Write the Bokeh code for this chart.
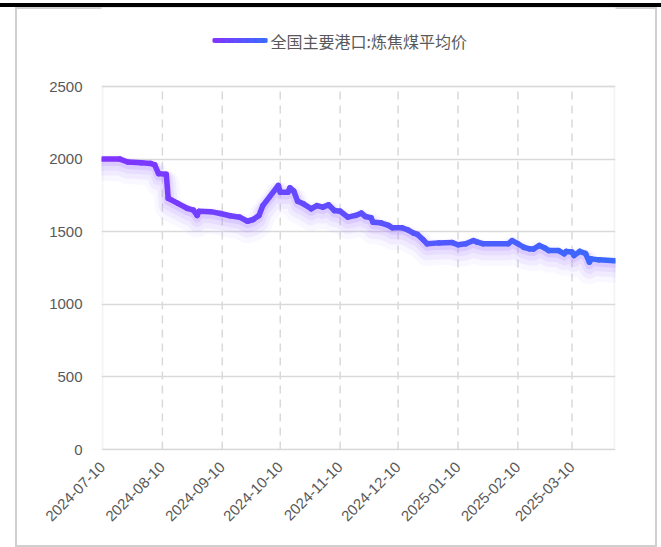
import math
import pandas as pd
from bokeh.plotting import figure
from bokeh.models import (Range1d, FixedTicker, DatetimeTickFormatter, Label,
                          BoxAnnotation, ColumnDataSource)
from bokeh.embed import file_html
from bokeh.resources import INLINE

# 全国主要港口:炼焦煤平均价 (元/吨)
dates = ["2024-07-10", "2024-07-19", "2024-07-23", "2024-07-30", "2024-08-04", "2024-08-06",
         "2024-08-08", "2024-08-12", "2024-08-13", "2024-08-18", "2024-08-23", "2024-08-26",
         "2024-08-28", "2024-08-29", "2024-09-04", "2024-09-09", "2024-09-14", "2024-09-19",
         "2024-09-23", "2024-09-26", "2024-09-29", "2024-10-01", "2024-10-09", "2024-10-10",
         "2024-10-14", "2024-10-15", "2024-10-17", "2024-10-19", "2024-10-22", "2024-10-26",
         "2024-10-29", "2024-11-01", "2024-11-04", "2024-11-07", "2024-11-10", "2024-11-14",
         "2024-11-18", "2024-11-21", "2024-11-23", "2024-11-26", "2024-11-27", "2024-12-01",
         "2024-12-05", "2024-12-07", "2024-12-12", "2024-12-15", "2024-12-18", "2024-12-20",
         "2024-12-23", "2024-12-25", "2024-12-31", "2025-01-07", "2025-01-10", "2025-01-14",
         "2025-01-18", "2025-01-20", "2025-01-23", "2025-02-05", "2025-02-07", "2025-02-10",
         "2025-02-13", "2025-02-16", "2025-02-18", "2025-02-21", "2025-02-24", "2025-02-26",
         "2025-03-03", "2025-03-06", "2025-03-07", "2025-03-10", "2025-03-11", "2025-03-14",
         "2025-03-17", "2025-03-19", "2025-03-20", "2025-03-24", "2025-04-01"]
prices = [2000, 2000, 1980, 1975, 1970, 1960, 1900, 1895, 1730, 1695,
          1660, 1648, 1612, 1640, 1638, 1625, 1610, 1600, 1572, 1584,
          1612, 1680, 1818, 1772, 1772, 1802, 1779, 1710, 1692, 1658,
          1680, 1669, 1685, 1646, 1641, 1600, 1612, 1628, 1605, 1596,
          1565, 1561, 1543, 1527, 1527, 1513, 1490, 1481, 1444, 1417,
          1423, 1425, 1410, 1417, 1439, 1428, 1417, 1417, 1439, 1417,
          1393, 1382, 1380, 1405, 1387, 1370, 1370, 1348, 1364, 1360,
          1336, 1364, 1350, 1290, 1313, 1306, 1300]
series_name = "全国主要港口:炼焦煤平均价"
x_ticks = ["2024-07-10", "2024-08-10", "2024-09-10", "2024-10-10", "2024-11-10",
           "2024-12-10", "2025-01-10", "2025-02-10", "2025-03-10"]
y_ticks = [0, 500, 1000, 1500, 2000, 2500]
y_max = 2500

ms = [t.value / 1e6 for t in pd.to_datetime(dates)]
tick_ms = [t.value / 1e6 for t in pd.to_datetime(x_ticks)]

# page geometry (pixels). The host element is border-box sized, so the canvas
# starts at the inner edge of the CSS borders (OX, OY) and keeps its full size.
OX, OY = 15, 7
W, H = 661, 547
PL, PR, PT, PB = 102, 614, 86, 449             # plot-area box on the page
FL, FR, FT, FB = PL - 1, PR + 1, OY, PB + 1    # drawing frame (1px slack round the box)

span = ms[-1] - ms[0]
ms_per_px = span / (PR - PL)
u_per_px = y_max / (PB - PT)

p = figure(width=W, height=H, output_backend="svg", toolbar_location=None,
           x_range=Range1d(ms[0] - ms_per_px, ms[-1] + ms_per_px),
           y_range=Range1d(-u_per_px, y_max + (PT - FT) * u_per_px),
           min_border_left=FL - OX, min_border_right=OX + W - FR,
           min_border_top=0, min_border_bottom=OY + H - FB)
p.background_fill_color = "white"
p.border_fill_color = None
p.outline_line_color = None
p.styles = {
    "border-left": "15px solid transparent",
    "border-right": "4px solid transparent",
    "border-top": "7px solid transparent",
    "background": "linear-gradient(#000, #000) 0 2.5px / 100% 4px no-repeat border-box, #fff",
    "box-shadow": "inset 0 0 0 2px #d0d0d0",
}

# axes
p.xaxis.ticker = FixedTicker(ticks=tick_ms)
p.xaxis.formatter = DatetimeTickFormatter(days="%Y-%m-%d", months="%Y-%m-%d",
                                          years="%Y-%m-%d", hours="%Y-%m-%d")
p.xaxis.major_label_orientation = math.pi / 4
p.yaxis.ticker = FixedTicker(ticks=y_ticks)
for ax in (p.xaxis[0], p.yaxis[0]):
    ax.axis_line_color = None
    ax.major_tick_line_color = None
    ax.minor_tick_line_color = None
    ax.major_label_text_font = "Liberation Sans"
    ax.major_label_text_font_size = "15px"
    ax.major_label_text_color = "#595959"
p.yaxis.major_label_standoff = 13
p.xaxis.major_label_standoff = 8

# grid: solid horizontals, dashed monthly verticals inside the value range, light box
p.xgrid.visible = False
p.ygrid.grid_line_color = "#d9d9d9"
p.ygrid.grid_line_width = 1.5
vgrid = ColumnDataSource(dict(x=tick_ms[1:], y0=[0] * (len(tick_ms) - 1),
                              y1=[y_max] * (len(tick_ms) - 1)))
p.segment("x", "y0", "x", "y1", source=vgrid, line_color="#d9d9d9", line_width=1.5,
          line_dash="8 6", level="underlay")
p.add_layout(BoxAnnotation(left=ms[0], right=ms[-1], bottom=0, top=y_max,
                           fill_alpha=0, line_color="#d9d9d9", line_width=2, level="underlay"))

# soft lavender glow beneath the line
for width, alpha, off_px in [(26, 0.07, 9), (19, 0.1, 7), (13, 0.15, 5), (8, 0.22, 3)]:
    off = off_px * u_per_px
    p.line(ms, [v - off for v in prices], line_color="#b08aff", line_alpha=alpha,
           line_width=width, line_join="round", line_cap="round")

# purple→blue gradient line, drawn as coloured segments
c0 = (128, 52, 255)
c1 = (58, 106, 255)


def mix(f):
    return "#%02x%02x%02x" % tuple(int(round(a + (b - a) * f)) for a, b in zip(c0, c1))


seg = ColumnDataSource(dict(
    x0=ms[:-1], y0=prices[:-1], x1=ms[1:], y1=prices[1:],
    color=[mix(((a + b) / 2 - ms[0]) / span) for a, b in zip(ms[:-1], ms[1:])]))
p.segment("x0", "y0", "x1", "y1", source=seg, line_color="color", line_width=5.5,
          line_cap="round")


# screen-unit helpers (offsets from the frame's bottom-left corner)
def sx(px):
    return px - FL


def sy(py):
    return FB - py


# legend: gradient swatch with rounded ends + label
lx0, lx1, ly, lh = 212, 266.5, 40, 5
n = 24
for i in range(n):
    a = lx0 + (lx1 - lx0) * i / n
    b = lx0 + (lx1 - lx0) * (i + 1) / n
    box = BoxAnnotation(left=sx(a), right=sx(b + 0.6), bottom=sy(ly + lh / 2),
                        top=sy(ly - lh / 2), left_units="screen", right_units="screen",
                        bottom_units="screen", top_units="screen",
                        fill_color=mix(i / (n - 1)), fill_alpha=1, line_color=None)
    if i in (0, n - 1):
        try:
            box.border_radius = 2
        except Exception:
            pass
    p.add_layout(box)
p.add_layout(Label(x=sx(270), y=sy(ly), x_units="screen", y_units="screen", text=series_name,
                   text_font="Noto Sans CJK SC", text_font_size="16px",
                   text_color="#595959", text_baseline="middle", text_align="left"))

open("out.html", "w").write(file_html(p, INLINE))
